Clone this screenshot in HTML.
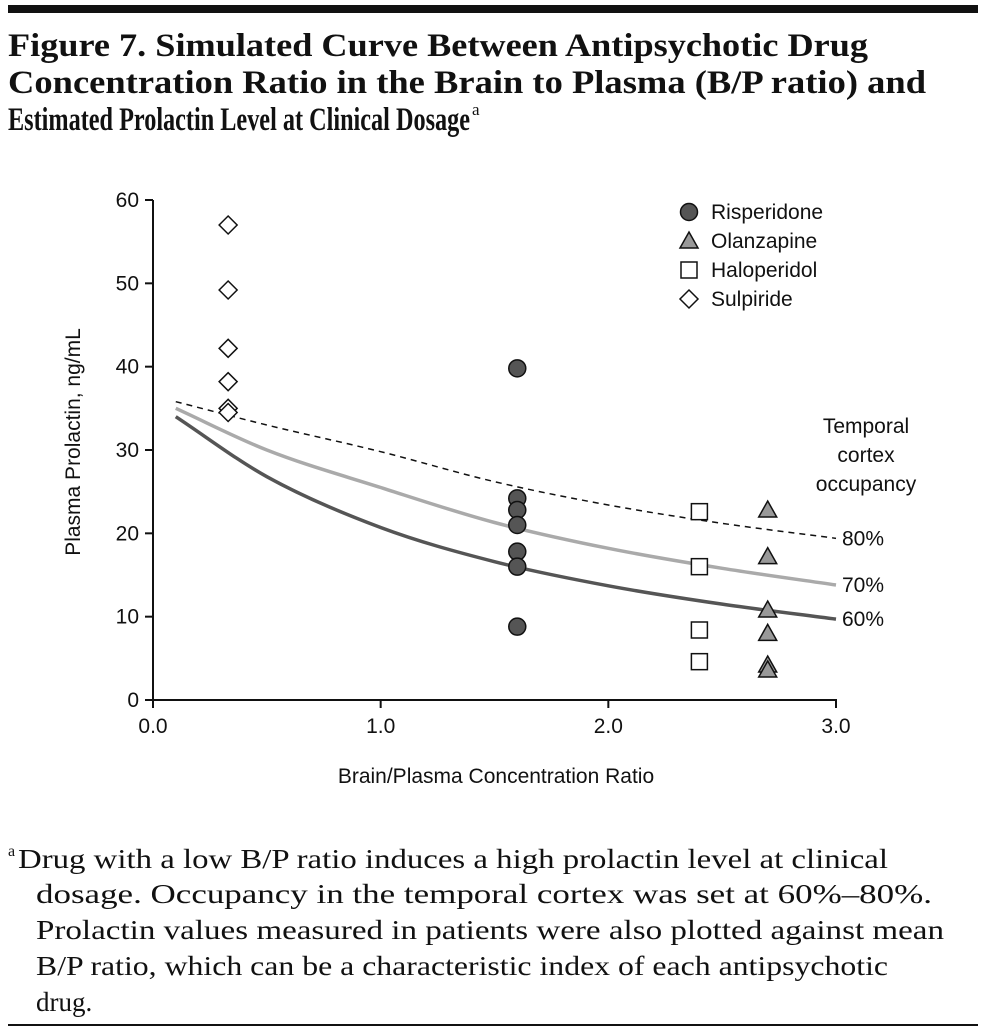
<!DOCTYPE html>
<html><head><meta charset="utf-8"><style>
html,body{margin:0;padding:0;background:#fff;}
svg{display:block;}
.serif{font-family:"Liberation Serif",serif;}
</style></head><body>
<svg id="chart" width="986" height="1033" viewBox="0 0 986 1033">
<rect x="8" y="5" width="970" height="8" fill="#111"/>
<g class="serif" font-weight="bold" font-size="33" fill="#111">
<text x="8" y="56" textLength="860" lengthAdjust="spacingAndGlyphs">Figure 7. Simulated Curve Between Antipsychotic Drug</text>
<text x="8" y="93" textLength="918" lengthAdjust="spacingAndGlyphs">Concentration Ratio in the Brain to Plasma (B/P ratio) and</text>
<text x="8" y="130" textLength="462" lengthAdjust="spacingAndGlyphs">Estimated Prolactin Level at Clinical Dosage</text>
<text x="472" y="115" font-size="17" font-weight="normal">a</text>
</g>
<g id="plot"></g>
<g class="serif" font-size="27" fill="#111">
<text x="8" y="856" font-size="16">a</text>
<text x="18" y="868" textLength="870" lengthAdjust="spacingAndGlyphs">Drug with a low B/P ratio induces a high prolactin level at clinical</text>
<text x="36" y="903" textLength="896" lengthAdjust="spacingAndGlyphs">dosage. Occupancy in the temporal cortex was set at 60%–80%.</text>
<text x="36" y="939" textLength="908" lengthAdjust="spacingAndGlyphs">Prolactin values measured in patients were also plotted against mean</text>
<text x="36" y="975" textLength="852" lengthAdjust="spacingAndGlyphs">B/P ratio, which can be a characteristic index of each antipsychotic</text>
<text x="36" y="1011">drug.</text>
</g>
<rect x="8" y="1024" width="970" height="2" fill="#111"/>
</svg>
<script>
const xTicks=[0,1,2,3];
const xTickLabels=["0.0","1.0","2.0","3.0"];
const yTicks=[0,10,20,30,40,50,60];
const sulpX=0.33, sulpY=[57,49.2,42.2,38.2,35,34.5];
const risX=1.6, risY=[39.8,24.2,22.8,21,17.8,16,8.8];
const haloX=2.4, haloY=[22.6,16,8.4,4.6];
const olanX=2.7, olanY=[22.8,17.2,10.8,8,4.2,3.6];
const curveX=[0.1,0.5,1.0,1.5,2.0,2.5,3.0];
const curve80=[35.8,33,29.8,26.2,23.4,21.2,19.4];
const curve70=[35,30,25.5,21.3,18.2,15.8,13.8];
const curve60=[34,26.8,20.7,16.6,13.7,11.5,9.7];

const NS="http://www.w3.org/2000/svg";
const plot=document.getElementById('plot');
const X=v=>153+v*(836-153)/3;
const Y=v=>700-v*(500/60);
function mk(tag,attrs,parent){const e=document.createElementNS(NS,tag);for(const k in attrs)e.setAttribute(k,attrs[k]);(parent||plot).appendChild(e);return e;}
function txt(s,attrs){const t=mk('text',Object.assign({'font-family':'Liberation Sans, sans-serif','font-size':21,fill:'#111'},attrs));t.textContent=s;return t;}

let ax=mk('line',{x1:153,y1:200,x2:153,y2:700,stroke:'#111','stroke-width':2});


ax=mk('line',{x1:152,y1:700,x2:837,y2:700,stroke:'#111','stroke-width':2});


yTicks.forEach(v=>{
  mk('line',{x1:145,y1:Y(v),x2:153,y2:Y(v),stroke:'#111','stroke-width':2});
  const t=txt(String(v),{x:139,y:Y(v)+7,'text-anchor':'end'});
  
  
});
xTicks.forEach((v,i)=>{
  mk('line',{x1:X(v),y1:700,x2:X(v),y2:708,stroke:'#111','stroke-width':2});
  const t=txt(xTickLabels[i],{x:X(v),y:733,'text-anchor':'middle'});
  
  
});
let t=txt('Brain/Plasma Concentration Ratio',{x:496,y:783,'text-anchor':'middle'});


t=txt('Plasma Prolactin, ng/mL',{x:0,y:0,'text-anchor':'middle',transform:'translate(80,442) rotate(-90)'});



// monotone cubic interpolation
function pathFor(ys){
  const xs=curveX.map(X), yv=ys.map(Y), n=xs.length;
  const d=[],m=[];
  for(let i=0;i<n-1;i++)d.push((yv[i+1]-yv[i])/(xs[i+1]-xs[i]));
  m[0]=d[0];m[n-1]=d[n-2];
  for(let i=1;i<n-1;i++)m[i]=(d[i-1]*d[i]<=0)?0:(d[i-1]+d[i])/2;
  let s='M'+xs[0]+','+yv[0];
  for(let i=0;i<n-1;i++){
    const h=xs[i+1]-xs[i];
    s+=` C${xs[i]+h/3},${yv[i]+m[i]*h/3} ${xs[i+1]-h/3},${yv[i+1]-m[i+1]*h/3} ${xs[i+1]},${yv[i+1]}`;
  }
  return s;
}
let c=mk('path',{d:pathFor(curve80),fill:'none',stroke:'#111','stroke-width':1.5,'stroke-dasharray':'6,5'});


c=mk('path',{d:pathFor(curve70),fill:'none',stroke:'#aaa','stroke-width':3.5});


c=mk('path',{d:pathFor(curve60),fill:'none',stroke:'#555','stroke-width':3.5});



function circle(cx,cy){return mk('circle',{cx,cy,r:8.5,fill:'#555',stroke:'#111','stroke-width':1.5});}
function tri(cx,cy){return mk('polygon',{points:`${cx},${cy-9} ${cx+9},${cy+7} ${cx-9},${cy+7}`,fill:'#999',stroke:'#111','stroke-width':1.5});}
function sq(cx,cy){return mk('rect',{x:cx-8,y:cy-8,width:16,height:16,fill:'#fff',stroke:'#111','stroke-width':1.5});}
function dia(cx,cy){return mk('polygon',{points:`${cx},${cy-9} ${cx+9},${cy} ${cx},${cy+9} ${cx-9},${cy}`,fill:'#fff',stroke:'#111','stroke-width':1.5});}
sulpY.forEach(v=>{const m=dia(X(sulpX),Y(v));});
risY.forEach(v=>{const m=circle(X(risX),Y(v));});
haloY.forEach(v=>{const m=sq(X(haloX),Y(v));});
olanY.forEach(v=>{const m=tri(X(olanX),Y(v));});

const leg=[['Risperidone',circle],['Olanzapine',tri],['Haloperidol',sq],['Sulpiride',dia]];
leg.forEach((l,i)=>{
  const y=212+i*29;
  const m=l[1](689,y);
  
  
  const tt=txt(l[0],{x:711,y:y+7});
  
  
});
[['Temporal',433],['cortex',462],['occupancy',491]].forEach(a=>{
  const tt=txt(a[0],{x:866,y:a[1],'text-anchor':'middle'});
  
  
});
[['80%',Y(curve80[6])+7],['70%',Y(curve70[6])+7],['60%',Y(curve60[6])+7]].forEach(a=>{
  const tt=txt(a[0],{x:842,y:a[1]});
  
  
});
</script>
</body></html>
